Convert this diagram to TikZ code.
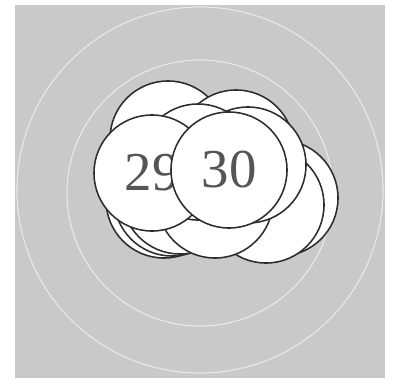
\documentclass[tikz,border=0pt]{standalone}
\usepackage{fontspec}
\setmainfont{Liberation Serif}
\usepackage{xcolor}
\definecolor{panelgray}{RGB}{201,201,201}
\definecolor{ringwhite}{RGB}{232,232,232}
\definecolor{rimgray}{RGB}{45,45,45}
\definecolor{numgray}{RGB}{85,85,85}
\tikzset{
  disc/.style={circle, draw=rimgray, fill=white, line width=1.1pt,
    minimum size=2.9cm, inner sep=0pt, text=numgray,
    font=\fontsize{39}{40}\selectfont}
}
\begin{document}
\begin{tikzpicture}[x=0.025cm, y=-0.025cm]
            \useasboundingbox (0,0) rectangle (400,383);
            \fill[panelgray] (15,5) rectangle (385,378);
            \begin{scope}
              \clip (15,5) rectangle (385,378);
              \draw[ringwhite, line width=0.8pt] (200,190) circle (183);
              \draw[ringwhite, line width=0.8pt] (200,193) circle (133);
            \end{scope}

            \node[disc] (b1) at (168,139) {};
            \node[disc] (b2) at (236,148) {};
            \node[disc] (b3) at (280,198) {};
            \node[disc] (b4) at (266,205) {};
            \node[disc] (b5) at (164,200) {};
            \node[disc] (b6) at (172,198) {};
            \node[disc] (b7) at (180,196) {};
            \node[disc] (b8) at (215,200) {};
            \node[disc] (b9) at (248,165) {};
            \node[disc] (b10) at (198,162) {};
            \node[disc] (n29) at (152,173) {29};
            \node[disc] (n30) at (229,170) {30};
        \end{tikzpicture}
\end{document}
